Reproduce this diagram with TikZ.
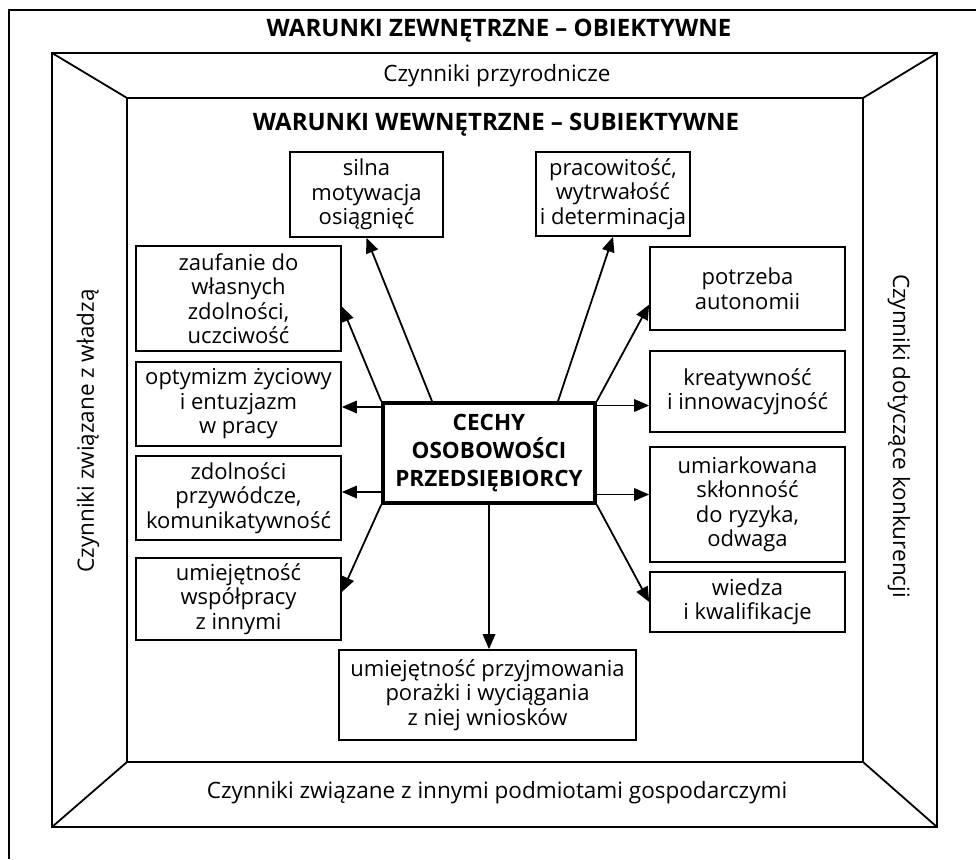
\documentclass[tikz,border=0pt]{standalone}
\usepackage{fontspec}
\setmainfont{Open Sans}
\usetikzlibrary{arrows.meta,calc}
\begin{document}
\begin{tikzpicture}[x=1pt,y=-1pt,
  frame/.style={line width=1.8pt,line join=miter},
  box/.style={draw,line width=1.7pt,align=center,inner sep=0pt,
    font=\fontsize{22}{24.5}\selectfont},
  center/.style={draw,line width=3.6pt,align=center,inner sep=0pt,
    font=\fontsize{22.5}{28}\bfseries\selectfont},
  hdr/.style={font=\fontsize{24}{28}\bfseries\selectfont,inner sep=0pt},
  side/.style={font=\fontsize{22.5}{26}\selectfont,inner sep=0pt},
  arr/.style={line width=1.8pt,-{Triangle[length=15pt,width=12.5pt]}}]
\useasboundingbox (0,0) rectangle (976,859);
% frames
\draw[frame] (9,859) -- (9,10) -- (976,10);
\draw[frame] (52,53) rectangle (937,827);
\draw[frame] (127,98) rectangle (863,762);
\draw[frame] (52,53) -- (127,98);
\draw[frame] (937,53) -- (863,98);
\draw[frame] (52,827) -- (127,762);
\draw[frame] (937,827) -- (863,762);
% labels
\node[hdr] (t1) at (499,31) {WARUNKI ZEWNĘTRZNE – OBIEKTYWNE};
\node[side] (t2) at (497,76) {Czynniki przyrodnicze};
\node[hdr] (t3) at (496,125) {WARUNKI WEWNĘTRZNE – SUBIEKTYWNE};
\node[side,rotate=90] (tl) at (88,431) {Czynniki związane z władzą};
\node[side,rotate=-90] (tr) at (899,436) {Czynniki dotyczące konkurencji};
\node[side] (tb) at (497,793) {Czynniki związane z innymi podmiotami gospodarczymi};
% boxes
\node[box,minimum width=153,minimum height=85] (silna) at (366.5,194.5) {silna\\motywacja\\osiągnięć};
\node[box,minimum width=154,minimum height=84] (prac) at (613,194) {pracowitość,\\wytrwałość\\i determinacja};
\node[box,minimum width=205,minimum height=105] (zauf) at (238.5,298.5) {zaufanie do\\własnych\\zdolności,\\uczciwość};
\node[box,minimum width=205,minimum height=84] (opt) at (238.5,404) {optymizm życiowy\\i entuzjazm\\w pracy};
\node[box,minimum width=205,minimum height=84] (zdol) at (238.5,498) {zdolności\\przywódcze,\\komunikatywność};
\node[box,minimum width=205,minimum height=82] (wsp) at (238.5,599) {umiejętność\\współpracy\\z innymi};
\node[box,minimum width=195,minimum height=83] (potrz) at (747.5,288.5) {potrzeba\\autonomii};
\node[box,minimum width=195,minimum height=81] (kreat) at (747.5,391.5) {kreatywność\\i innowacyjność};
\node[box,minimum width=195,minimum height=115] (umiar) at (747.5,504.5) {umiarkowana\\skłonność\\do ryzyka,\\odwaga};
\node[box,minimum width=195,minimum height=60] (wiedza) at (747.5,602) {wiedza\\i kwalifikacje};
\node[box,minimum width=297,minimum height=90] (por) at (487.5,695) {umiejętność przyjmowania\\porażki i wyciągania\\z niej wniosków};
\node[center,minimum width=212,minimum height=100] (c) at (489,453) {CECHY\\OSOBOWOŚCI\\PRZEDSIĘBIORCY};
% arrows
\draw[arr] ($(c.north)+(-57,0)$) -- (silna.south);
\draw[arr] ($(c.north)+(69,0)$) -- (prac.south);
\draw[arr] (c.north west) -- ($(zauf.east)+(0,8)$);
\draw[arr] ($(c.west |- opt.east)+(0,3)$) -- ($(opt.east)+(0,3)$);
\draw[arr] ($(c.west |- zdol.east)+(0,-6)$) -- ($(zdol.east)+(0,-6)$);
\draw[arr] (c.south west) -- ($(wsp.east)+(0,-7)$);
\draw[arr] (c.north east) -- ($(potrz.west)+(0,16)$);
\draw[arr] ($(c.east |- kreat.west)+(0,14)$) -- ($(kreat.west)+(0,14)$);
\draw[arr] ($(c.east |- umiar.west)+(0,-10)$) -- ($(umiar.west)+(0,-10)$);
\draw[arr] (c.south east) -- (wiedza.west);
\draw[arr] (c.south) -- (c.south |- por.north);
\end{tikzpicture}
\end{document}
